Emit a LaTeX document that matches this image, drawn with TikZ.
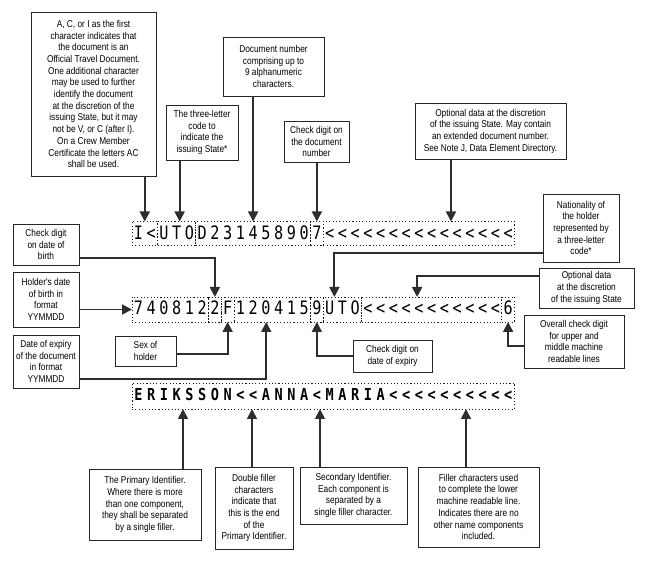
\documentclass[tikz,border=0pt]{standalone}
\usepackage{fontspec}
\newfontfamily\boxfont{Liberation Sans}[FakeStretch=0.84]
\newfontfamily\mrzfont{DejaVu Sans Mono}[FakeStretch=0.82]
\usetikzlibrary{arrows.meta,calc}
\tikzset{
  note/.style={draw=black!85,line width=0.9pt,fill=white,align=center,inner sep=1pt,outer sep=0pt,
    font=\boxfont\fontsize{9.9}{11.7}\selectfont},
  seg/.style={draw=black!90,line width=0.8pt,dash pattern=on 1.1pt off 2.2pt,
    minimum height=24pt,inner sep=0pt,outer sep=0pt},
  mrz/.style={font=\mrzfont\fontsize{18.5}{18}\selectfont,anchor=base,inner sep=0pt},
  mrzbold/.style={font=\mrzfont\bfseries\fontsize{16.5}{17}\selectfont,anchor=base,inner sep=0pt},
  link/.style={line width=1.8pt,draw=black!82},
}
\begin{document}
\begin{tikzpicture}[x=1pt,y=-1pt,>={Triangle[length=10pt,width=10pt]}]
\useasboundingbox (0,0) rectangle (649,561);
\def\xo{132}\def\pitch{12.75}
\def\ya{233.5}\def\yb{309.5}\def\yc{396}
%%% The three machine readable lines:
\def\lineone{I,<,U,T,O,D,2,3,1,4,5,8,9,0,7,<,<,<,<,<,<,<,<,<,<,<,<,<,<,<}
\def\linetwo{7,4,0,8,1,2,2,F,1,2,0,4,1,5,9,U,T,O,<,<,<,<,<,<,<,<,<,<,<,6}
\def\linethree{E,R,I,K,S,S,O,N,<,<,A,N,N,A,<,M,A,R,I,A,<,<,<,<,<,<,<,<,<,<}
\foreach \ch [count=\k from 0] in \lineone
  \node[mrz] (a\k) at ({\xo+(\k+0.5)*\pitch},239.5) {\ch};
\foreach \ch [count=\k from 0] in \linetwo
  \node[mrz] (b\k) at ({\xo+(\k+0.5)*\pitch},314.5) {\ch};
\foreach \ch [count=\k from 0] in \linethree
  \node[mrzbold] (c\k) at ({\xo+(\k+0.5)*\pitch},401) {\ch};
%% dotted fields, upper line
\node[seg,minimum width=2*\pitch*1pt] (ida) at ({\xo+1*\pitch},\ya) {};
\node[seg,minimum width=3*\pitch*1pt] (iss) at ({\xo+3.5*\pitch},\ya) {};
\node[seg,minimum width=9*\pitch*1pt] (docn) at ({\xo+9.5*\pitch},\ya) {};
\node[seg,minimum width=1*\pitch*1pt] (chkd) at ({\xo+14.5*\pitch},\ya) {};
\node[seg,minimum width=15*\pitch*1pt] (opta) at ({\xo+22.5*\pitch},\ya) {};
%% dotted fields, middle line
\node[seg,minimum width=6*\pitch*1pt,minimum height=25pt] (dob) at ({\xo+3*\pitch},\yb) {};
\node[seg,minimum width=1*\pitch*1pt,minimum height=25pt] (chkb) at ({\xo+6.5*\pitch},\yb) {};
\node[seg,minimum width=1*\pitch*1pt,minimum height=25pt] (sex) at ({\xo+7.5*\pitch},\yb) {};
\node[seg,minimum width=6*\pitch*1pt,minimum height=25pt] (exp) at ({\xo+11*\pitch},\yb) {};
\node[seg,minimum width=1*\pitch*1pt,minimum height=25pt] (chke) at ({\xo+14.5*\pitch},\yb) {};
\node[seg,minimum width=3*\pitch*1pt,minimum height=25pt] (nat) at ({\xo+16.5*\pitch},\yb) {};
\node[seg,minimum width=11*\pitch*1pt,minimum height=25pt] (optb) at ({\xo+23.5*\pitch},\yb) {};
\node[seg,minimum width=1*\pitch*1pt,minimum height=25pt] (chkc) at ({\xo+29.5*\pitch},\yb) {};
%% dotted field, lower line
\node[seg,minimum width=30*\pitch*1pt,minimum height=26pt] (name) at ({\xo+15*\pitch},\yc) {};
%%% Notes on the upper line:
\node[note,minimum width=125pt,minimum height=164pt] (acnote) at (93.5,94) {A, C, or I as the first\\character indicates that\\the document is an\\Official Travel Document.\\One additional character\\may be used to further\\identify the document\\at the discretion of the\\issuing State, but it may\\not be V, or C (after I).\\On a Crew Member\\Certificate the letters AC\\shall be used.};
\node[note,minimum width=72pt,minimum height=55pt] (issnote) at (202,132.5) {The three-letter\\code to\\indicate the\\issuing State*};
\node[note,minimum width=101pt,minimum height=59pt] (docnote) at (273.5,66.5) {Document number\\comprising up to\\9 alphanumeric\\characters.};
\node[note,minimum width=65pt,minimum height=41pt] (chkdnote) at (316.5,141.5) {Check digit on\\the document\\number};
\node[note,minimum width=151pt,minimum height=56pt] (optanote) at (490.5,131) {Optional data at the discretion\\of the issuing State. May contain\\an extended document number.\\See Note J, Data Element Directory.};
%%% Notes on the middle line:
\node[note,minimum width=66pt,minimum height=41pt] (chkbnote) at (46,244.5) {Check digit\\on date of\\birth};
\node[note,minimum width=66pt,minimum height=55pt] (dobnote) at (46,299.5) {Holder's date\\of birth in\\format\\YYMMDD};
\node[note,minimum width=66pt,minimum height=53pt] (expnote) at (46,361.5) {Date of expiry\\of the document\\in format\\YYMMDD};
\node[note,minimum width=61pt,minimum height=30pt] (sexnote) at (145.5,351) {Sex of\\holder};
\node[note,minimum width=79pt,minimum height=32pt] (chkenote) at (392.5,356) {Check digit on\\date of expiry};
\node[note,minimum width=76pt,minimum height=68pt] (natnote) at (581,228) {Nationality of\\the holder\\represented by\\a three-letter\\code*};
\node[note,minimum width=95pt,minimum height=40pt] (optbnote) at (586.5,288) {Optional data\\at the discretion\\of the issuing State};
\node[note,minimum width=100pt,minimum height=53pt] (chkcnote) at (574,341.5) {Overall check digit\\for upper and\\middle machine\\readable lines};
%%% Notes on the lower line:
\node[note,minimum width=112pt,minimum height=71pt] (prinote) at (145,504.5) {The Primary Identifier.\\Where there is more\\than one component,\\they shall be separated\\by a single filler.};
\node[note,minimum width=78pt,minimum height=82pt] (dblnote) at (254,508) {Double filler\\characters\\indicate that\\this is the end\\of the\\Primary Identifier.};
\node[note,minimum width=107pt,minimum height=57pt] (secnote) at (353.5,495.5) {Secondary Identifier.\\Each component is\\separated by a\\single filler character.};
\node[note,minimum width=121pt,minimum height=80pt] (filnote) at (478.5,507) {Filler characters used\\to complete the lower\\machine readable line.\\Indicates there are no\\other name components\\included.};
%%% Connectors, upper line
\coordinate (oa) at (451,0);
\draw[link,->] (ida.north |- acnote.south) -- (ida.north);
\draw[link,->] ([xshift=3pt]iss.north |- issnote.south) -- ([xshift=3pt]iss.north);
\draw[link,->] (docn.north |- docnote.south) -- (docn.north);
\draw[link,->] (chkd.north |- chkdnote.south) -- (chkd.north);
\draw[link,->] (oa |- optanote.south) -- (oa |- opta.north);
%%% Connectors, middle line
\draw[link,->] ([yshift=-13.5pt]chkbnote.east) -| (chkb.north);
\draw[link,->] (dobnote.east |- dob.west) -- (dob.west);
\draw[link,->] ([yshift=-3pt]sexnote.east) -| (sex.south);
\draw[link,->] ([yshift=-17.5pt]expnote.east) -| ([xshift=-6pt]exp.south);
\draw[link,->] (chkenote.west) -| (chke.south);
\draw[link,->] ([yshift=-25pt]natnote.west) -| ([xshift=-8pt]nat.north);
\draw[link,->] ([yshift=12pt]optbnote.west) -| ([xshift=-14.5pt]optb.north);
\draw[link,->] ([yshift=-4.5pt]chkcnote.west) -| (chkc.south);
%%% Connectors, lower line
\coordinate (pa) at (183,0);\coordinate (pb) at (252,0);
\coordinate (pc) at (320,0);\coordinate (pd) at (466,0);
\draw[link,->] (pa |- prinote.north) -- (pa |- name.south);
\draw[link,->] (pb |- dblnote.north) -- (pb |- name.south);
\draw[link,->] (pc |- secnote.north) -- (pc |- name.south);
\draw[link,->] (pd |- filnote.north) -- (pd |- name.south);
\end{tikzpicture}
\end{document}
